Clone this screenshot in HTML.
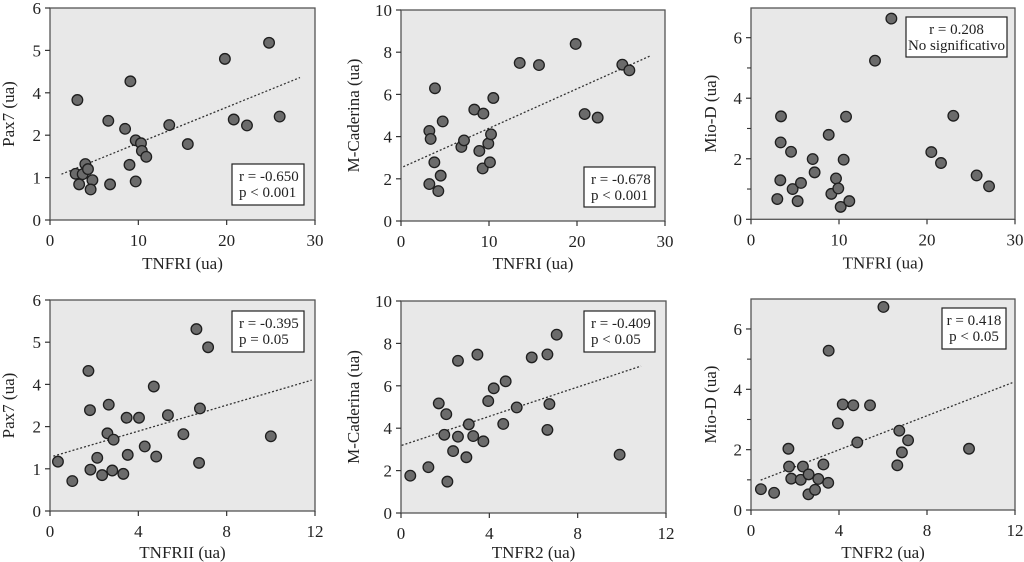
<!DOCTYPE html>
<html><head><meta charset="utf-8">
<style>
html,body{margin:0;padding:0;background:#fff;}
svg{display:block;font-family:"Liberation Serif",serif;}
svg text{font-family:"Liberation Serif",serif;}
</style></head>
<body>
<svg id="fig" width="1024" height="562" viewBox="0 0 1024 562" xmlns="http://www.w3.org/2000/svg"></svg>
<script>
// ---- data ----
const p1X=[3.1,2.9,3.7,3.3,4.0,4.3,4.8,4.6,6.8,6.6,8.5,9.1,9.0,9.7,9.7,10.3,10.4,10.9,13.5,15.6,19.8,24.8,20.8,22.3,26.0];
const p1Y=[3.66,1.09,1.08,0.84,1.32,1.2,0.94,0.72,0.84,2.68,2.3,4.27,1.3,0.91,1.88,1.81,1.63,1.49,2.48,1.79,4.8,5.18,2.74,2.46,2.88];
const p1TrendX=[1.3,28.3], p1TrendY=[1.08,4.36];
const p2X=[3.86,3.22,3.37,3.79,3.22,4.24,4.51,4.74,6.86,7.16,8.33,9.36,8.9,9.28,9.92,10.23,10.11,10.49,13.49,15.68,19.85,20.87,22.35,25.15,25.95];
const p2Y=[6.29,4.27,3.89,2.78,1.75,1.42,2.15,4.72,3.51,3.82,5.28,5.09,3.32,2.49,3.67,4.11,2.78,5.83,7.49,7.39,8.39,5.07,4.9,7.41,7.14];
const p2TrendX=[0.26,28.3], p2TrendY=[2.57,7.82];
const p3X=[2.99,3.41,3.37,3.33,4.55,4.73,5.3,5.68,7.01,7.23,8.83,9.13,9.66,9.92,10.19,10.53,10.8,11.17,14.09,15.95,20.49,21.59,22.99,25.64,27.05];
const p3Y=[0.67,3.4,2.54,1.29,2.23,1.0,0.6,1.2,1.99,1.55,2.79,0.84,1.35,1.02,0.41,1.97,3.39,0.6,5.24,6.63,2.22,1.86,3.42,1.45,1.09];
const p4X=[0.36,1.01,1.74,1.81,1.83,2.14,2.36,2.66,2.6,2.82,2.88,3.32,3.47,3.52,4.03,4.29,4.7,4.81,5.34,6.04,6.63,7.16,6.79,6.75,10.0];
const p4Y=[1.17,0.71,4.32,2.78,0.98,1.26,0.85,3.04,1.84,0.96,1.69,0.88,2.42,1.33,2.42,1.53,3.9,1.29,2.54,1.82,5.31,4.88,2.86,1.14,1.77];
const p4TrendX=[0.15,11.85], p4TrendY=[1.30,4.10];
const p5X=[0.42,1.24,2.1,1.71,2.05,1.96,2.58,2.58,2.36,2.96,3.07,3.27,3.46,3.73,3.95,4.2,4.63,4.74,5.24,5.92,6.63,6.63,6.72,7.05,9.9];
const p5Y=[1.76,2.16,1.48,5.17,4.66,3.69,7.18,3.6,2.92,2.63,4.18,3.63,7.47,3.38,5.28,5.88,4.2,6.21,4.98,7.34,7.48,3.92,5.14,8.41,2.75];
const p5TrendX=[0.03,10.87], p5TrendY=[3.19,6.93];
const p6X=[0.45,1.05,1.7,1.73,1.83,2.26,2.36,2.62,2.61,2.91,3.06,3.29,3.51,3.53,3.95,4.17,4.65,4.83,5.41,6.02,6.74,6.65,6.86,7.14,9.91];
const p6Y=[0.69,0.57,2.03,1.44,1.04,1.0,1.44,1.18,0.52,0.67,1.03,1.51,0.9,5.28,2.87,3.5,3.47,2.24,3.47,6.73,2.63,1.48,1.91,2.31,2.03];
const p6TrendX=[0.44,11.88], p6TrendY=[0.99,4.22];
// tick labels
const pax7Ticks=[0,1,2,4,5,6];
const mcadTicks=[0,2,4,6,8,10];
const miodTicks=[0,2,4,6];
const tnfr1Ticks=[0,10,20,30];
const tnfr2Ticks=[0,4,8,12];
</script>
<script>
const NS="http://www.w3.org/2000/svg";
const svg=document.getElementById('fig');
const FF='"Liberation Serif", serif';
function mk(tag,attrs,parent){const e=document.createElementNS(NS,tag);for(const k in attrs)e.setAttribute(k,attrs[k]);if(tag==='text')e.setAttribute('font-family',FF);(parent||svg).appendChild(e);return e;}
function pieceScale(ticks,p0,p1){return v=>{const n=ticks.length-1;let i=0;while(i<n-1&&v>ticks[i+1])i++;const t=(v-ticks[i])/(ticks[i+1]-ticks[i]);return p0+(p1-p0)*(i+t)/n;};}
function linScale(d0,d1,p0,p1){return v=>p0+(v-d0)/(d1-d0)*(p1-p0);}
function panel(o){
  const g=mk('g',{});
  
  
  const r=mk('rect',{x:o.x0,y:o.top,width:o.x1-o.x0,height:o.y0-o.top,fill:'#e8e8e8',stroke:'#555','stroke-width':1.3},g);
  
  
  const xs=linScale(o.xt[0],o.xt[o.xt.length-1],o.x0,o.x1);
  const ys=o.ys;
  o.xt.forEach(v=>{const X=xs(v);
    mk('line',{x1:X,x2:X,y1:o.y0,y2:o.y0+5,stroke:'#333','stroke-width':1.2},g);
    const t=mk('text',{x:X,y:o.y0+26,'text-anchor':'middle','font-size':17,fill:'#222'},g);t.textContent=v;
    
    });
  o.ytv.forEach(v=>{const Y=ys(v);
    mk('line',{x1:o.x0-5,x2:o.x0,y1:Y,y2:Y,stroke:'#333','stroke-width':1.2},g);
    const t=mk('text',{x:o.x0-9,y:Y+6,'text-anchor':'end','font-size':17,fill:'#222'},g);t.textContent=v;
    
    });
  (o.minor||[]).forEach(v=>{const Y=ys(v);mk('line',{x1:o.x0-4,x2:o.x0,y1:Y,y2:Y,stroke:'#333','stroke-width':1.1},g);});
  if(o.tx){const l=mk('line',{x1:xs(o.tx[0]),y1:ys(o.ty[0]),x2:xs(o.tx[1]),y2:ys(o.ty[1]),stroke:'#333','stroke-width':1.3,'stroke-dasharray':'2,2'},g);
    
    }
  o.px.forEach((v,i)=>{const c=mk('circle',{cx:xs(v),cy:ys(o.py[i]),r:5.3,fill:'#6b6b6b',stroke:'#1e1e1e','stroke-width':1.3},g);
    
    });
  const xl=mk('text',{x:(o.x0+o.x1)/2,y:o.y0+33+o.xlOff,'text-anchor':'middle','font-size':17,fill:'#222'},g);xl.textContent=o.xlab;
  
  
  const yx=o.ylx, yy=(o.top+o.y0)/2;
  const yl=mk('text',{x:yx,y:yy,'text-anchor':'middle','font-size':17,fill:'#222',transform:`rotate(-90 ${yx} ${yy})`},g);yl.textContent=o.ylab;
  
  
  const b=o.box;
  const br=mk('rect',{x:b[0],y:b[1],width:b[2]-b[0],height:b[3]-b[1],fill:'#fff',stroke:'#222','stroke-width':1.2},g);
  
  
  b[4].forEach((s,i)=>{const t=mk('text',{x:b[5]?(b[0]+b[2])/2:b[0]+7,y:b[1]+17+i*16,'text-anchor':b[5]?'middle':'start','font-size':15,fill:'#222'},g);t.textContent=s;
    
    });
}
panel({name:'panel-pax7-tnfr1',x0:50,x1:315,top:8,y0:220,xt:tnfr1Ticks,ytv:pax7Ticks,ys:pieceScale(pax7Ticks,220,8),
  px:p1X,py:p1Y,tx:p1TrendX,ty:p1TrendY,xlab:'TNFRI (ua)',xlOff:16,ylab:'Pax7 (ua)',ylx:14,
  box:[232,164,304,205,['r = -0.650','p < 0.001'],false]});
panel({name:'panel-mcad-tnfr1',x0:401,x1:665,top:10,y0:221,xt:tnfr1Ticks,ytv:mcadTicks,ys:linScale(0,10,221,10),
  px:p2X,py:p2Y,tx:p2TrendX,ty:p2TrendY,xlab:'TNFRI (ua)',xlOff:15,ylab:'M-Caderina (ua)',ylx:359,
  box:[584,167,655,207,['r = -0.678','p < 0.001'],false]});
panel({name:'panel-miod-tnfr1',x0:751,x1:1015,top:8,y0:219.3,xt:tnfr1Ticks,ytv:miodTicks,minor:[1,3,5],ys:linScale(0,7,219.3,7.4),
  px:p3X,py:p3Y,xlab:'TNFRI (ua)',xlOff:16,ylab:'Mio-D (ua)',ylx:716,
  box:[906,17,1007,57,['r = 0.208','No significativo'],true]});
panel({name:'panel-pax7-tnfr2',x0:50,x1:315,top:300,y0:511,xt:tnfr2Ticks,ytv:pax7Ticks,ys:pieceScale(pax7Ticks,511,300),
  px:p4X,py:p4Y,tx:p4TrendX,ty:p4TrendY,xlab:'TNFRII (ua)',xlOff:14,ylab:'Pax7 (ua)',ylx:14,
  box:[232,311,304,352,['r = -0.395','p = 0.05'],false]});
panel({name:'panel-mcad-tnfr2',x0:401,x1:666,top:301,y0:513,xt:tnfr2Ticks,ytv:mcadTicks,ys:linScale(0,10,513,301),
  px:p5X,py:p5Y,tx:p5TrendX,ty:p5TrendY,xlab:'TNFR2 (ua)',xlOff:12,ylab:'M-Caderina (ua)',ylx:359,
  box:[584,311,655,352,['r = -0.409','p < 0.05'],false]});
panel({name:'panel-miod-tnfr2',x0:751,x1:1015,top:299,y0:510,xt:tnfr2Ticks,ytv:miodTicks,minor:[1,3,5],ys:linScale(0,7,510,298.8),
  px:p6X,py:p6Y,tx:p6TrendX,ty:p6TrendY,xlab:'TNFR2 (ua)',xlOff:15,ylab:'Mio-D (ua)',ylx:716,
  box:[942,308,1006,349,['r = 0.418','p < 0.05'],true]});
</script>
</body></html>
